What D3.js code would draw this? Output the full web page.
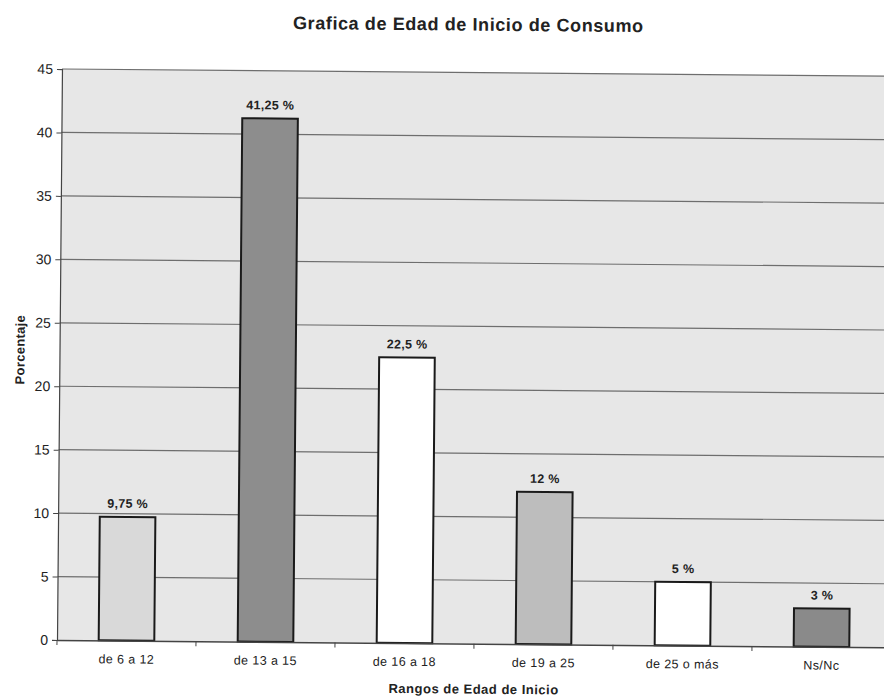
<!DOCTYPE html>
<html><head><meta charset="utf-8">
<script src="https://cdn.jsdelivr.net/npm/d3@7"></script>
<style>body{margin:0;background:#fff}svg{display:block}text{font-family:"Liberation Sans",Arial,sans-serif}</style>
</head><body>
<svg id="c" width="884" height="696"></svg>
<script>
const categories = ["de 6 a 12","de 13 a 15","de 16 a 18","de 19 a 25","de 25 o más","Ns/Nc"];
const values = [9.75, 41.25, 22.5, 12, 5, 3];
const valueLabels = ["9,75 %","41,25 %","22,5 %","12 %","5 %","3 %"];
const barColors = ["#d9d9d9","#8d8d8d","#ffffff","#bdbdbd","#ffffff","#8a8a8a"];
const yTicks = [0,5,10,15,20,25,30,35,40,45];
const title = "Grafica de Edad de Inicio de Consumo";
const xTitle = "Rangos de Edad de Inicio";
const yTitle = "Porcentaje";

const svg = d3.select("#c");
const x0 = 57, x1 = 57 + 6*139, yBottom = 640, yTop = 69;
const root = svg.append("g").attr("transform", `rotate(0.5 ${x0} ${yBottom})`);

const x = d3.scaleBand().domain(categories).range([x0, x1]).paddingInner(0.6).paddingOuter(0.3);
const y = d3.scaleLinear().domain([0,45]).range([yBottom, yTop]);

// plot background
root.append("rect").attr("x", x0).attr("y", yTop).attr("width", x1 - x0).attr("height", yBottom - yTop).attr("fill", "#e7e7e7");

// gridlines
root.append("g").selectAll("line").data(yTicks.filter(d => d > 0)).join("line")
  .attr("x1", x0).attr("x2", x1).attr("y1", d => y(d)).attr("y2", d => y(d))
  .attr("stroke", "#6e6e6e").attr("stroke-width", 1.2);

// bars
root.append("g").selectAll("rect").data(values).join("rect")
  .attr("x", (d,i) => x(categories[i])).attr("width", x.bandwidth())
  .attr("y", d => y(d)).attr("height", d => yBottom - y(d))
  .attr("fill", (d,i) => barColors[i]).attr("stroke", "#1a1a1a").attr("stroke-width", 2);

// value labels
root.append("g").selectAll("text").data(values).join("text")
  .attr("x", (d,i) => x(categories[i]) + x.bandwidth()/2).attr("y", d => y(d) - 9)
  .attr("text-anchor", "middle").attr("font-size", 12.5).attr("letter-spacing", 0.3).attr("font-weight", "bold").attr("fill", "#222")
  .text((d,i) => valueLabels[i]);

// y axis
const yAxis = d3.axisLeft(y).tickValues(yTicks).tickSize(5).tickPadding(4).tickFormat(d3.format("d"));
const ya = root.append("g").attr("transform", `translate(${x0},0)`).call(yAxis);
ya.select(".domain").attr("stroke", "#444").attr("stroke-width", 1.2);
ya.selectAll(".tick line").attr("stroke", "#444");
ya.selectAll(".tick text").attr("font-size", 14).attr("fill", "#222").attr("font-family", "Liberation Sans, Arial, sans-serif");

// x axis
const xAxis = d3.axisBottom(x).tickSize(0).tickPadding(14);
const xa = root.append("g").attr("transform", `translate(0,${yBottom})`).call(xAxis);
xa.select(".domain").attr("stroke", "#444").attr("stroke-width", 1.5);
xa.selectAll(".tick text").attr("font-size", 12.5).attr("letter-spacing", 0.4).attr("fill", "#222").attr("font-family", "Liberation Sans, Arial, sans-serif");
// category separator ticks
const seps = d3.range(categories.length + 1).map(i => x0 + i * x.step());
xa.append("g").selectAll("line").data(seps).join("line")
  .attr("x1", d => d).attr("x2", d => d).attr("y1", 0).attr("y2", 5).attr("stroke", "#444");

// titles
root.append("text").attr("x", 463).attr("y", 27).attr("text-anchor", "middle")
  .attr("font-size", 18).attr("letter-spacing", 0.6).attr("font-weight", "bold").attr("fill", "#222").text(title);
root.append("text").attr("x", 474).attr("y", 690).attr("text-anchor", "middle")
  .attr("font-size", 13).attr("letter-spacing", 0.5).attr("font-weight", "bold").attr("fill", "#222").text(xTitle);
root.append("text").attr("transform", "translate(22,350) rotate(-90)").attr("text-anchor", "middle")
  .attr("font-size", 13).attr("letter-spacing", 0.3).attr("font-weight", "bold").attr("fill", "#222").text(yTitle);
</script>
</body></html>
